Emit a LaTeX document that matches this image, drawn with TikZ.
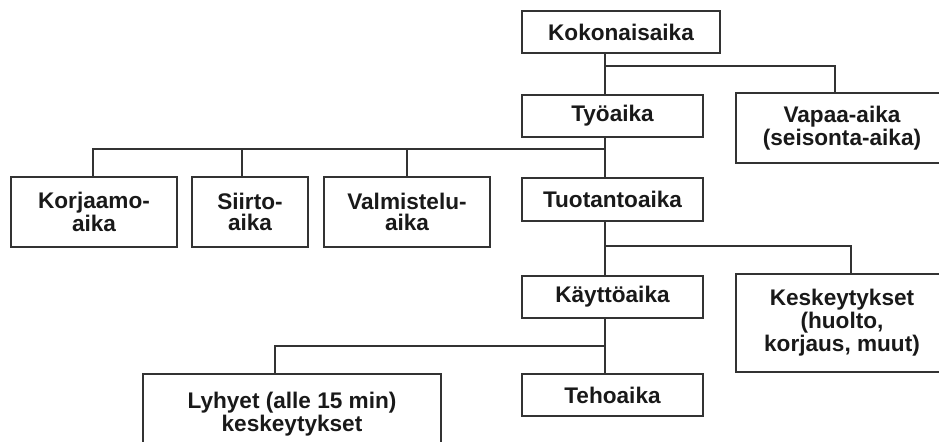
\documentclass[tikz,border=0pt]{standalone}
\usepackage{fontspec}
\setmainfont{Liberation Sans}
\usepackage{tikz}

\begin{document}
\begin{tikzpicture}[
    x=0.5pt, y=-0.5pt,
    box/.style={draw=black!80, line width=1pt, inner sep=0pt, align=center,
        font=\bfseries\fontsize{11.3}{10.4}\selectfont, text=black!90},
    link/.style={draw=black!80, line width=1pt}
]
\clip (0,0) rectangle (939,441);
\node[box, minimum width=99pt, minimum height=21pt] (koko) at (621,32) {Kokonaisaika};
\node[box, minimum width=90.5pt, minimum height=21pt] (tyo) at (612.5,116) {Työaika};
\node[box, minimum width=106pt, minimum height=35pt] (vapaa) at (842,128) {Vapaa-aika\\(seisonta-aika)};
\node[box, minimum width=90.5pt, minimum height=21.5pt] (tuot) at (612.5,199.5) {Tuotantoaika};
\node[box, minimum width=83pt, minimum height=35pt] (korj) at (94,212) {Korjaamo-\\aika};
\node[box, minimum width=58pt, minimum height=35pt] (siirto) at (250,212) {Siirto-\\aika};
\node[box, minimum width=83pt, minimum height=35pt] (valm) at (407,212) {Valmistelu-\\aika};
\node[box, minimum width=90.5pt, minimum height=21pt] (kaytto) at (612.5,297) {Käyttöaika};
\node[box, minimum width=106pt, minimum height=49pt] (kesk) at (842,323) {Keskeytykset\\(huolto,\\korjaus, muut)};
\node[box, minimum width=90.5pt, minimum height=21pt] (teho) at (612.5,395) {Tehoaika};
\node[box, minimum width=149pt, minimum height=40pt] (lyhyet) at (292,414) {Lyhyet (alle 15 min)\\keskeytykset};

\coordinate (spine) at (605,0);
\coordinate (j1) at (605,66);
\coordinate (j2) at (605,149);
\coordinate (j3) at (605,246);
\coordinate (j4) at (605,346);

\draw[link] (koko.south -| spine) -- (tyo.north -| spine);
\draw[link] (j1) -| ([xshift=-3.5pt]vapaa.north);
\draw[link] (tyo.south -| spine) -- (tuot.north -| spine);
\draw[link] (j2) -| ([xshift=-0.5pt]korj.north);
\draw[link] ([xshift=-4pt]siirto.north) -- ([xshift=-4pt]siirto.north |- j2);
\draw[link] (valm.north) -- (valm.north |- j2);
\draw[link] (tuot.south -| spine) -- (kaytto.north -| spine);
\draw[link] (j3) -| ([xshift=4.5pt]kesk.north);
\draw[link] (kaytto.south -| spine) -- (teho.north -| spine);
\draw[link] (j4) -| ([xshift=-8.5pt]lyhyet.north);
\end{tikzpicture}
\end{document}
